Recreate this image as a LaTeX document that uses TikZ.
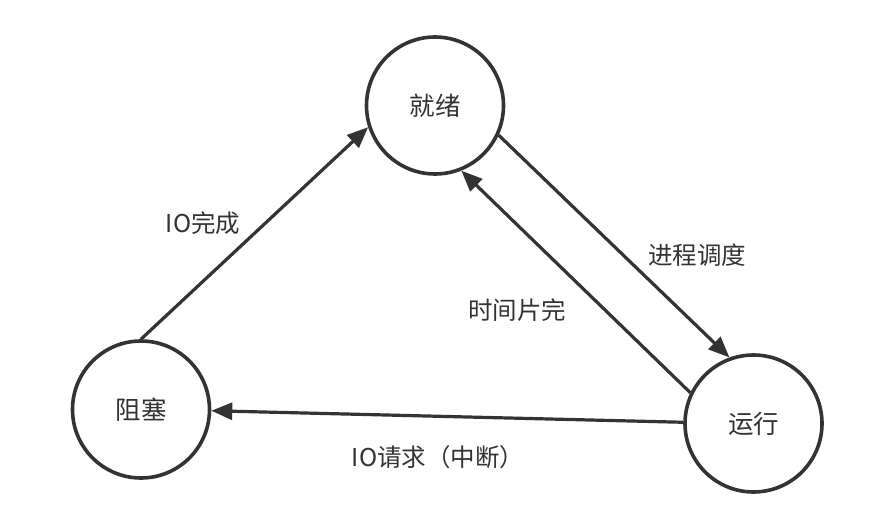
\documentclass[tikz,border=0pt]{standalone}
\usepackage{fontspec}
\newfontfamily\cjk{Noto Sans CJK SC}
\usetikzlibrary{arrows.meta}
\definecolor{ink}{HTML}{333333}

\begin{document}
\begin{tikzpicture}[x=1pt,y=1pt]
\tikzset{
  state/.style={circle, draw=ink, line width=3.6pt, minimum size=137pt, inner sep=0pt,
    text=ink, font=\cjk\fontsize{25.5}{30}\selectfont},
  trans/.style={-{Triangle[length=21pt,width=17pt]}, draw=ink, line width=3.2pt},
  lbl/.style={text=ink, font=\cjk\fontsize{24.5}{29}\selectfont}
}
\useasboundingbox (0,0) rectangle (872,528);

\node[state] (ready) at (435,422.5) {就绪};
\node[state] (blocked) at (141,118.5) {阻塞};
\node[state] (running) at (753.5,104.5) {运行};

\draw[trans] (blocked.90) -- (ready.198.6);
\draw[trans] (ready.-25.5) -- (running.110.4);
\draw[trans] (running.154.5) -- (ready.-68.5);
\draw[trans] (running.179) -- (blocked.-1);

\node[lbl] (ioDone) at (203,305) {IO完成};
\node[lbl] (sched) at (697,273) {进程调度};
\node[lbl] (slice) at (517,218) {时间片完};
\node[lbl] (ioReq) at (438,71) {IO请求（中断）};
\end{tikzpicture}
\end{document}
